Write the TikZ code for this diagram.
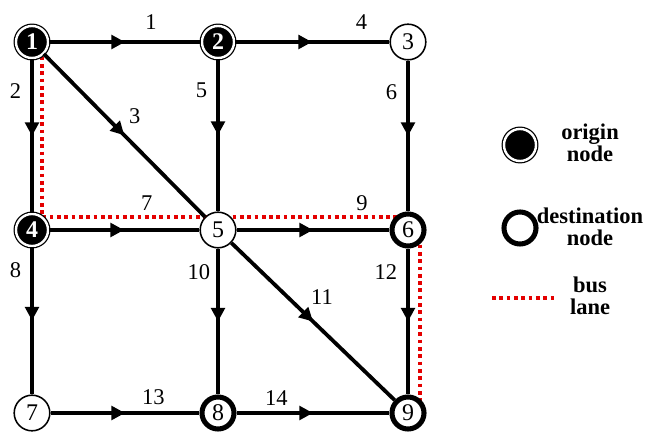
\documentclass[tikz,border=0pt]{standalone}
\usepackage{fontspec}
\setmainfont{Liberation Serif}
\usetikzlibrary{arrows.meta,decorations.markings}
\definecolor{busred}{RGB}{228,0,0}
\tikzset{
  num/.style={font=\fontsize{17}{17}\selectfont},
  lab/.style={font=\fontsize{16}{16}\selectfont},
  plain/.style={shape=circle,draw,fill=white,line width=1.1pt,minimum size=0.89cm,inner sep=0pt,num},
  origin/.style={shape=circle,draw=black,fill=black,double=white,double distance=1.7pt,line width=0.9pt,minimum size=0.8cm,inner sep=0pt,text=white,num,font=\fontsize{17}{17}\selectfont\bfseries},
  dest/.style={shape=circle,draw,fill=white,line width=3.6pt,minimum size=0.8cm,inner sep=0pt,num},
  link/.style={draw,line width=2.7pt,postaction={decorate},
    decoration={markings,mark=at position 0.5 with {\arrow{Triangle[length=0.34cm,width=0.34cm]}}}},
  bus/.style={draw=busred,line width=2.6pt,dash pattern=on 2.6pt off 2.6pt},
  legtext/.style={align=center,font=\fontsize{16}{15.6}\selectfont\bfseries}
}
\begin{document}
\begin{tikzpicture}[x=0.025cm,y=-0.025cm]
\useasboundingbox (0,0) rectangle (645,432);
% bus lane
\coordinate(b1) at (42,42);
\coordinate(b2) at (42,217);
\coordinate(b3) at (408,217);
\coordinate(b4) at (420,230);
\coordinate(b5) at (420,413);
\path[bus] (b1) -- (b2) -- (b3);
\path[bus] (b4) -- (b5);

\node(1) at (32,42)[origin]   {1};
\node(2) at (218,42)[origin]  {2};
\node(3) at (408,42)[plain]   {3};
\node(4) at (32,230)[origin]  {4};
\node(5) at (218,230)[plain]  {5};
\node(6) at (408,230)[dest]   {6};
\node(7) at (32,413)[plain]   {7};
\node(8) at (218,413)[dest]   {8};
\node(9) at (408,413)[dest]   {9};
\path
  (1)      edge[link]   node [above=4pt,pos=.67,lab]        {1}     (2)
  (1)      edge[link]   node [left=3pt,pos=.21,lab]         {2}     (4)
  (1)      edge[link]   node [above right=1pt,pos=.48,lab]  {3}     (5)
  (2)      edge[link]   node [above=4pt,pos=.82,lab]        {4}     (3)
  (2)      edge[link]   node [left=3pt,pos=.21,lab]         {5}     (5)
  (3)      edge[link]   node [left=3pt,pos=.21,lab]         {6}     (6)
  (4)      edge[link]   node [above=9pt,pos=.65,lab]        {7}     (5)
  (4)      edge[link]   node [left=3pt,pos=.16,lab]         {8}     (7)
  (5)      edge[link]   node [above=9pt,pos=.82,lab]        {9}     (6)
  (5)      edge[link]   node [left=1pt,pos=.16,lab]         {10}    (8)
  (5)      edge[link]   node [above right=1pt,pos=.44,lab]  {11}    (9)
  (6)      edge[link]   node [left=3pt,pos=.16,lab]         {12}    (9)
  (7)      edge[link]   node [above=1pt,pos=.69,lab]        {13}    (8)
  (8)      edge[link]   node [above=1pt,pos=.26,lab]        {14}    (9);

% legend
\node(lo) at (520,145)[origin]{};
\node(ld) at (520,228)[dest]{};
\coordinate(lb1) at (492,298);
\coordinate(lb2) at (556,298);
\path[bus] (lb1) -- (lb2);
\node(to) at (590,143)[legtext]{origin\\node};
\node(td) at (590,227)[legtext]{destination\\node};
\node(tb) at (590,296)[legtext]{bus\\lane};
\end{tikzpicture}
\end{document}
